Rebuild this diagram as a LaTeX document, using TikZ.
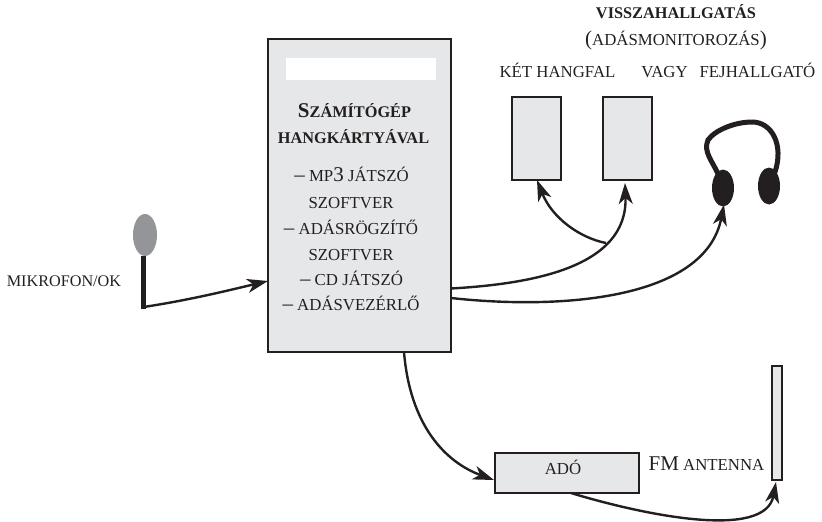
\documentclass[tikz,border=0pt]{standalone}
\usepackage{fontspec}
\setmainfont{Liberation Serif}
\usetikzlibrary{arrows.meta,calc,shapes.geometric}
\definecolor{ink}{HTML}{231F20}
\definecolor{boxgray}{HTML}{E6E7E8}
\definecolor{micgray}{HTML}{939598}
\newcommand{\bigch}[1]{{\fontsize{21}{21}\selectfont #1}}
\tikzset{
  x=1pt,y=-1pt,
  txt/.style={text=ink,font=\fontsize{16.8}{18}\selectfont,inner sep=0pt,anchor=base},
  btxt/.style={txt,font=\fontsize{16.3}{18}\selectfont\bfseries},
  panel/.style={draw=ink,fill=boxgray,line width=1.4pt,inner sep=0pt,outer sep=0pt,anchor=north west},
  spk/.style={panel,line width=2.6pt,minimum width=49pt,minimum height=83pt},
  arr/.style={draw=ink,line width=2.4pt,-{Stealth[length=21pt,width=14pt,inset=6pt]}},
  blob/.style={ellipse,fill=ink,inner sep=0pt,outer sep=0pt},
}
\begin{document}
\begin{tikzpicture}
\useasboundingbox (0,0) rectangle (822,522);
% computer
\node[panel,minimum width=183pt,minimum height=313pt] (comp) at (268,39) {};
\node[fill=white,inner sep=0pt,minimum width=150pt,minimum height=22pt,anchor=north west] (blank) at (286,58) {};
\node[btxt] (t1) at (354.5,117) {\bigch{S}ZÁMÍTÓGÉP};
\node[btxt] (t2) at (353.5,143) {HANGKÁRTYÁVAL};
\node[txt] (l1) at (351.5,181) {\bigch{–} MP\bigch{3} JÁTSZÓ};
\node[txt] (l2) at (351,208) {SZOFTVER};
\node[txt] (l3) at (351,234) {\bigch{–} ADÁSRÖGZÍTŐ};
\node[txt] (l4) at (351,260) {SZOFTVER};
\node[txt] (l5) at (351.5,285) {\bigch{–} CD JÁTSZÓ};
\node[txt] (l6) at (351,310) {\bigch{–} ADÁSVEZÉRLŐ};
% speakers
\node[spk] (s1) at (512,97) {};
\node[spk] (s2) at (603,97) {};
% top labels
\node[btxt] (h1) at (676,18) {VISSZAHALLGATÁS};
\node[txt] (h2) at (676,45.5) {\bigch{(}ADÁSMONITOROZÁS\bigch{)}};
\node[txt] (h3) at (557.5,77) {KÉT HANGFAL};
\node[txt] (h4) at (664.5,77) {VAGY};
\node[txt] (h5) at (757.5,77) {FEJHALLGATÓ};
% headphones
\draw[ink,line width=5pt,line cap=round] (719,176) .. controls (712,160) and (703,152) .. (708,140) .. controls (715,130) and (735,122) .. (752,122) .. controls (772,122) and (784,145) .. (775,172);
\node[blob,minimum width=22pt,minimum height=37pt] (earL) at (723,188) {};
\node[blob,minimum width=22pt,minimum height=37pt] (earR) at (769,186) {};
% mic
\node[ellipse,fill=micgray,inner sep=0pt,minimum width=24pt,minimum height=42pt] (mic) at (145,235) {};
\coordinate (micfoot) at (143.5,309);
\draw[ink,line width=5pt] (mic.south -| micfoot) -- (micfoot);
\node[txt,font=\fontsize{16.2}{18}\selectfont] (mlabel) at (64,286.5) {MIKROFON/OK};
\draw[arr] (143.5,307) .. controls (190,300) and (230,290) .. (comp.west |- 0,281);
% transmitter, antenna
\node[panel,minimum width=144pt,minimum height=40pt] (ado) at (495,453) {};
\node[txt] (adot) at (563,474) {ADÓ};
\node[panel,minimum width=10pt,minimum height=114pt] (ant) at (772,366) {};
\node[txt] (fm) at (706.5,470) {\bigch{FM} ANTENNA};
% connectors
\coordinate (o1) at (451,288.5);
\coordinate (o2) at (451,298);
\coordinate (split) at (606,243);
\draw[arr] (o1) .. controls (530,284) and (628,268) .. ($(s2.south)+(-2.5,3)$);
\draw[arr] (split) .. controls (580,238) and (552,218) .. ($(s1.south)+(0.5,0)$);
\draw[arr] (o2) .. controls (560,310) and (705,300) .. ($(earL.south)+(1,-2)$);
\draw[arr] (comp.south -| 404,0) .. controls (410,425) and (445,462) .. ($(ado.west)+(-1,7)$);
\draw[arr] ($(ado.south)+(4,0)$) .. controls (640,514) and (765,541) .. ($(ant.south)+(-1,2)$);
\end{tikzpicture}
\end{document}
